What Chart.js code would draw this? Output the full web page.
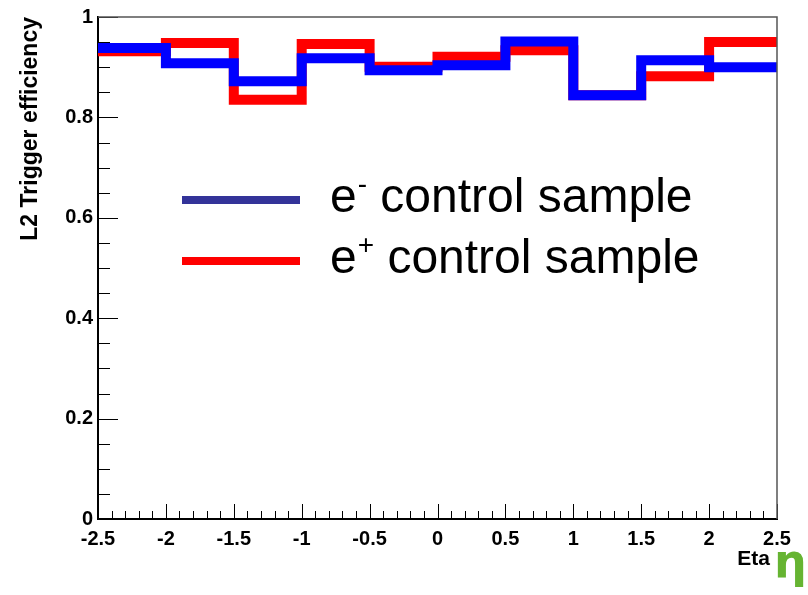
<!DOCTYPE html>
<html>
<head>
<meta charset="utf-8">
<title>L2 Trigger efficiency vs Eta</title>
<script src="https://cdn.jsdelivr.net/npm/chart.js@4.4.1/dist/chart.umd.min.js"></script>
<style>
  html, body { margin: 0; padding: 0; background: #fff; }
  #wrap { width: 808px; height: 595px; }
</style>
</head>
<body>
<div id="wrap"><canvas id="effChart" width="808" height="595"></canvas></div>
<script>
// bin edges in eta (10 bins of 0.5)
var binEdges = [-2.5, -2, -1.5, -1, -0.5, 0, 0.5, 1, 1.5, 2, 2.5];
// L2 efficiency per bin
var eMinusEff = [0.938, 0.908, 0.872, 0.918, 0.894, 0.904, 0.951, 0.844, 0.914, 0.900];
var ePlusEff  = [0.932, 0.948, 0.835, 0.946, 0.901, 0.921, 0.934, 0.844, 0.882, 0.950];
var seriesLabels = ['e- control sample', 'e+ control sample'];

var xTicks = [-2.5, -2, -1.5, -1, -0.5, 0, 0.5, 1, 1.5, 2, 2.5];
var xTickLabels = ['-2.5', '-2', '-1.5', '-1', '-0.5', '0', '0.5', '1', '1.5', '2', '2.5'];
var yTicks = [0, 0.2, 0.4, 0.6, 0.8, 1];
var yTickLabels = ['0', '0.2', '0.4', '0.6', '0.8', '1'];
var xTitle = 'Eta';

// histogram as stepped line: value holds from left edge to next edge
function toSteps(values) {
	var pts = [];
	for (var i = 0; i < values.length; i++) {
		pts.push({ x: binEdges[i], y: values[i] });
	}
	pts.push({ x: binEdges[binEdges.length - 1], y: values[values.length - 1] });
	return pts;
}

var FONT = '"Liberation Sans", Arial, Helvetica, sans-serif';

// inward tick marks + grey top/right frame (ROOT style)
var frameTicks = {
	id: 'frameTicks',
	afterDatasetsDraw: function(chart) {
		var ctx = chart.ctx;
		var a = chart.chartArea;
		var xs = chart.scales.x;
		var ys = chart.scales.y;
		var i, v, p, len;

		ctx.save();
		ctx.strokeStyle = '#000';
		ctx.lineWidth = 1;

		// x: minor every 0.1, major every 0.5
		for (i = 0; i <= 50; i++) {
			v = xs.min + i * 0.1;
			p = Math.round(xs.getPixelForValue(v)) + 0.5;
			len = (i % 5 === 0) ? 15 : 8;
			ctx.beginPath();
			ctx.moveTo(p, a.bottom);
			ctx.lineTo(p, a.bottom - len);
			ctx.stroke();
		}

		// y: minor every 0.05, major every 0.2
		for (i = 0; i <= 20; i++) {
			v = i * 0.05;
			p = Math.round(ys.getPixelForValue(v)) + 0.5;
			len = (i % 4 === 0) ? 20 : 12;
			ctx.beginPath();
			ctx.moveTo(a.left, p);
			ctx.lineTo(a.left + len, p);
			ctx.stroke();
		}

		// top and right frame
		ctx.strokeStyle = '#555';
		ctx.lineWidth = 1.5;
		ctx.beginPath();
		ctx.moveTo(a.left, a.top);
		ctx.lineTo(a.right, a.top);
		ctx.lineTo(a.right, a.bottom);
		ctx.stroke();
		ctx.restore();
	}
};

// big legend in the plot, x title and green eta symbol
var overlay = {
	id: 'overlay',
	afterDraw: function(chart) {
		var ctx = chart.ctx;
		var rows = [
			{ color: '#333399', lineY: 200, textY: 212 },
			{ color: '#ff0000', lineY: 261, textY: 273 }
		];

		ctx.save();
		rows.forEach(function(row, i) {
			var label = seriesLabels[i];
			var base = label.charAt(0);
			var sup = label.charAt(1);
			var rest = label.slice(2);
			var x = 330;

			ctx.fillStyle = row.color;
			ctx.fillRect(182, row.lineY - 4, 118, 8);

			ctx.fillStyle = '#000';
			ctx.textBaseline = 'alphabetic';
			ctx.textAlign = 'left';
			ctx.font = '48px ' + FONT;
			ctx.fillText(base, x, row.textY);
			x += ctx.measureText(base).width;

			ctx.font = '28px ' + FONT;
			ctx.fillText(sup, x + 1, row.textY - 19);
			x += ctx.measureText(sup).width + 1;

			ctx.font = '48px ' + FONT;
			ctx.fillText(rest, x, row.textY);
		});

		ctx.fillStyle = '#000';
		ctx.textAlign = 'right';
		ctx.font = 'bold 21px ' + FONT;
		ctx.fillText(xTitle, 770, 565);

		ctx.fillStyle = '#66b432';
		ctx.textAlign = 'left';
		ctx.font = 'bold 46px "DejaVu Sans", ' + FONT;
		ctx.fillText('\u03B7', 774, 577);
		ctx.restore();
	}
};

var ctx = document.getElementById('effChart');

var chart = new Chart(ctx, {
	type: 'line',
	data: {
		datasets: [
			{
				label: seriesLabels[0],
				data: toSteps(eMinusEff),
				borderColor: '#0000ff',
				borderWidth: 10,
				stepped: true,
				pointRadius: 0,
				fill: false,
				borderCapStyle: 'butt',
				borderJoinStyle: 'miter'
			},
			{
				label: seriesLabels[1],
				data: toSteps(ePlusEff),
				borderColor: '#ff0000',
				borderWidth: 10,
				stepped: true,
				pointRadius: 0,
				fill: false,
				borderCapStyle: 'butt',
				borderJoinStyle: 'miter'
			}
		]
	},
	options: {
		responsive: false,
		animation: false,
		devicePixelRatio: 1,
		layout: {
			padding: { left: 0, top: 17, right: 31, bottom: 0 }
		},
		plugins: {
			legend: { display: false },
			tooltip: { enabled: false }
		},
		scales: {
			x: {
				type: 'linear',
				min: -2.5,
				max: 2.5,
				afterBuildTicks: function(scale) {
					scale.ticks = xTicks.map(function(v) { return { value: v }; });
				},
				afterFit: function(scale) {
					scale.height = 76;
				},
				ticks: {
					color: '#000',
					padding: 8,
					maxRotation: 0,
					autoSkip: false,
					font: { family: FONT, size: 20, weight: 'bold' },
					callback: function(value, index) {
						return xTickLabels[index];
					}
				},
				grid: { drawOnChartArea: false, drawTicks: false },
				border: { display: true, color: '#000', width: 2 }
			},
			y: {
				min: 0,
				max: 1,
				afterBuildTicks: function(scale) {
					scale.ticks = yTicks.map(function(v) { return { value: v }; });
				},
				afterFit: function(scale) {
					scale.width = 98;
				},
				ticks: {
					color: '#000',
					padding: 5,
					autoSkip: false,
					font: { family: FONT, size: 20, weight: 'bold' },
					callback: function(value, index) {
						return yTickLabels[index];
					}
				},
				grid: { drawOnChartArea: false, drawTicks: false },
				border: { display: true, color: '#000', width: 2 },
				title: {
					display: true,
					text: 'L2 Trigger efficiency',
					align: 'end',
					color: '#000',
					font: { family: FONT, size: 23, weight: 'bold' },
					padding: { top: 17, bottom: 0 }
				}
			}
		}
	},
	plugins: [frameTicks, overlay]
});
</script>
</body>
</html>
